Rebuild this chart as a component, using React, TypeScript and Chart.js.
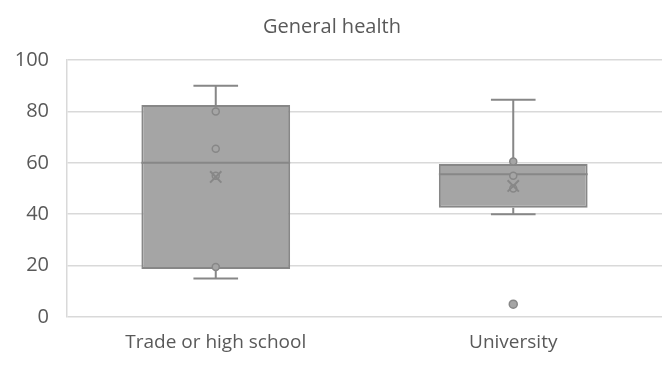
import React, { useEffect, useRef } from "react";
import { Chart, registerables } from "chart.js";

Chart.register(...registerables);

// Box-and-whisker summary per education group
const categories = ["Trade or high school", "University"];
const q1 = [18.7, 42.5];
const q3 = [82.5, 59.5];
const medians = [60, 55.5];
const whiskerLow = [15, 40];
const whiskerHigh = [90, 84.5];
const means = [54.5, 51];
const innerPoints = [
  [80, 65.5, 55, 19.5],
  [60.5, 55, 50],
];
const outliers = [[], [5]];
const yTicks = [0, 20, 40, 60, 80, 100];

const FILL = "#a5a5a5";
const LINE = "#878787";
const TEXT = "#595959";
const GRID = "#d9d9d9";
const FONT = "'Open Sans', sans-serif";

const toPoints = (groups: number[][]) =>
  groups.flatMap((vals, i) => vals.map((v) => ({ x: categories[i], y: v })));

// Draws whiskers, caps and the median line on top of each box
const whiskerPlugin = {
  id: "whiskers",
  afterDatasetDraw(chart: any, args: any) {
    if (args.index !== 0) return;
    const { ctx } = chart;
    const y = chart.scales.y;
    const meta = chart.getDatasetMeta(0);
    ctx.save();
    ctx.strokeStyle = LINE;
    ctx.lineWidth = 2;
    meta.data.forEach((bar: any, i: number) => {
      const cx = bar.x;
      const half = bar.width / 2;
      const cap = bar.width * 0.15;
      const yq1 = y.getPixelForValue(q1[i]);
      const yq3 = y.getPixelForValue(q3[i]);
      const yLo = y.getPixelForValue(whiskerLow[i]);
      const yHi = y.getPixelForValue(whiskerHigh[i]);
      const yMed = y.getPixelForValue(medians[i]);
      ctx.beginPath();
      ctx.moveTo(cx, yq3);
      ctx.lineTo(cx, yHi);
      ctx.moveTo(cx - cap, yHi);
      ctx.lineTo(cx + cap, yHi);
      ctx.moveTo(cx, yq1);
      ctx.lineTo(cx, yLo);
      ctx.moveTo(cx - cap, yLo);
      ctx.lineTo(cx + cap, yLo);
      ctx.moveTo(cx - half, yMed);
      ctx.lineTo(cx + half, yMed);
      ctx.stroke();
    });
    ctx.restore();
  },
};

export default function App() {
  const ref = useRef<HTMLCanvasElement>(null);

  useEffect(() => {
    document.body.style.margin = "0";
    const chart = new Chart(ref.current!, {
      type: "bar",
      data: {
        labels: categories,
        datasets: [
          {
            type: "bar",
            order: 10,
            data: categories.map((_, i) => [q1[i], q3[i]]),
            backgroundColor: FILL,
            borderColor: LINE,
            borderWidth: 2,
            borderSkipped: false,
            barPercentage: 1,
            categoryPercentage: 0.5,
          } as any,
          {
            type: "line",
            order: 3,
            data: toPoints(innerPoints),
            showLine: false,
            pointRadius: 3.5,
            pointBackgroundColor: FILL,
            pointBorderColor: LINE,
            pointBorderWidth: 1.5,
          } as any,
          {
            type: "line",
            order: 2,
            data: toPoints(outliers),
            showLine: false,
            pointRadius: 4,
            pointBackgroundColor: FILL,
            pointBorderColor: LINE,
            pointBorderWidth: 1.5,
          } as any,
          {
            type: "line",
            order: 1,
            data: means.map((v, i) => ({ x: categories[i], y: v })),
            showLine: false,
            pointStyle: "crossRot",
            pointRadius: 8,
            pointBorderColor: LINE,
            pointBorderWidth: 2,
          } as any,
        ],
      },
      options: {
        animation: false,
        responsive: true,
        maintainAspectRatio: false,
        layout: { padding: { left: 0, right: 8, top: 0, bottom: 0 } },
        plugins: {
          legend: { display: false },
          tooltip: { enabled: false },
          title: {
            display: true,
            text: "General health",
            color: TEXT,
            font: { family: FONT, size: 20, weight: "normal", lineHeight: 1.2 },
            padding: { top: 15, bottom: 21 },
          },
        },
        scales: {
          x: {
            grid: { display: false, drawTicks: false },
            border: { display: false },
            afterFit: (scale: any) => {
              scale.height = 50;
            },
            ticks: {
              color: TEXT,
              font: { family: FONT, size: 19 },
              padding: 14,
            },
          },
          y: {
            min: 0,
            max: 100,
            afterBuildTicks: (scale: any) => {
              scale.ticks = yTicks.map((v) => ({ value: v }));
            },
            afterFit: (scale: any) => {
              scale.width = 67;
            },
            grid: { color: GRID, lineWidth: 1.5, drawTicks: false },
            border: { display: true, color: GRID, width: 1.5 },
            ticks: {
              color: TEXT,
              font: { family: FONT, size: 20 },
              padding: 18,
            },
          },
        },
      },
      plugins: [whiskerPlugin],
    });
    return () => chart.destroy();
  }, []);

  return (
    <div style={{ position: "fixed", left: 0, top: 0, width: 672, height: 367 }}>
      <canvas ref={ref} />
    </div>
  );
}
